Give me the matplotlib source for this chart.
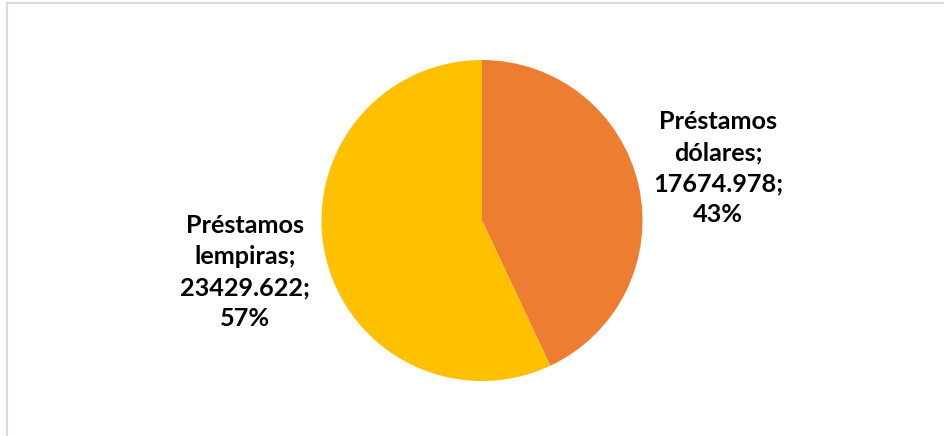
import matplotlib
matplotlib.use("Agg")
import matplotlib.pyplot as plt
from matplotlib.lines import Line2D

categories = ["Préstamos dólares", "Préstamos lempiras"]
values = [17674.978, 23429.622]
colors = ["#ED7D31", "#FFC000"]

W, H = 944, 436
fig = plt.figure(figsize=(W / 100, H / 100), dpi=100)
ax = fig.add_axes([0, 0, 1, 1])

cx, cy, r = 482, H - 220.5, 160.5
ax.pie(values, colors=colors, startangle=90, counterclock=False,
       center=(cx, cy), radius=r, frame=True,
       wedgeprops=dict(linewidth=0))
ax.set_xlim(0, W)
ax.set_ylim(0, H)
ax.set_aspect("equal")
ax.axis("off")

total = sum(values)
label_pos = [(718, H - 168), (245, H - 272)]
for name, v, (lx, ly) in zip(categories, values, label_pos):
    pct = round(100 * v / total)
    txt = f"{name.replace(' ', chr(10))};\n{v:.3f};\n{pct}%"
    ax.text(lx, ly, txt, ha="center", va="center", fontsize=18.2,
            fontweight="bold", family="Lato", color="#000000",
            linespacing=1.42)

# chart area border (top and left edges)
fig.add_artist(Line2D([6.5 / W, 1], [1 - 3.5 / H, 1 - 3.5 / H],
                      transform=fig.transFigure, color="#D9D9D9", lw=1.5))
fig.add_artist(Line2D([6.5 / W, 6.5 / W], [0, 1 - 3.5 / H],
                      transform=fig.transFigure, color="#D9D9D9", lw=1.5))

fig.savefig("out.png", dpi=100, facecolor="white")
